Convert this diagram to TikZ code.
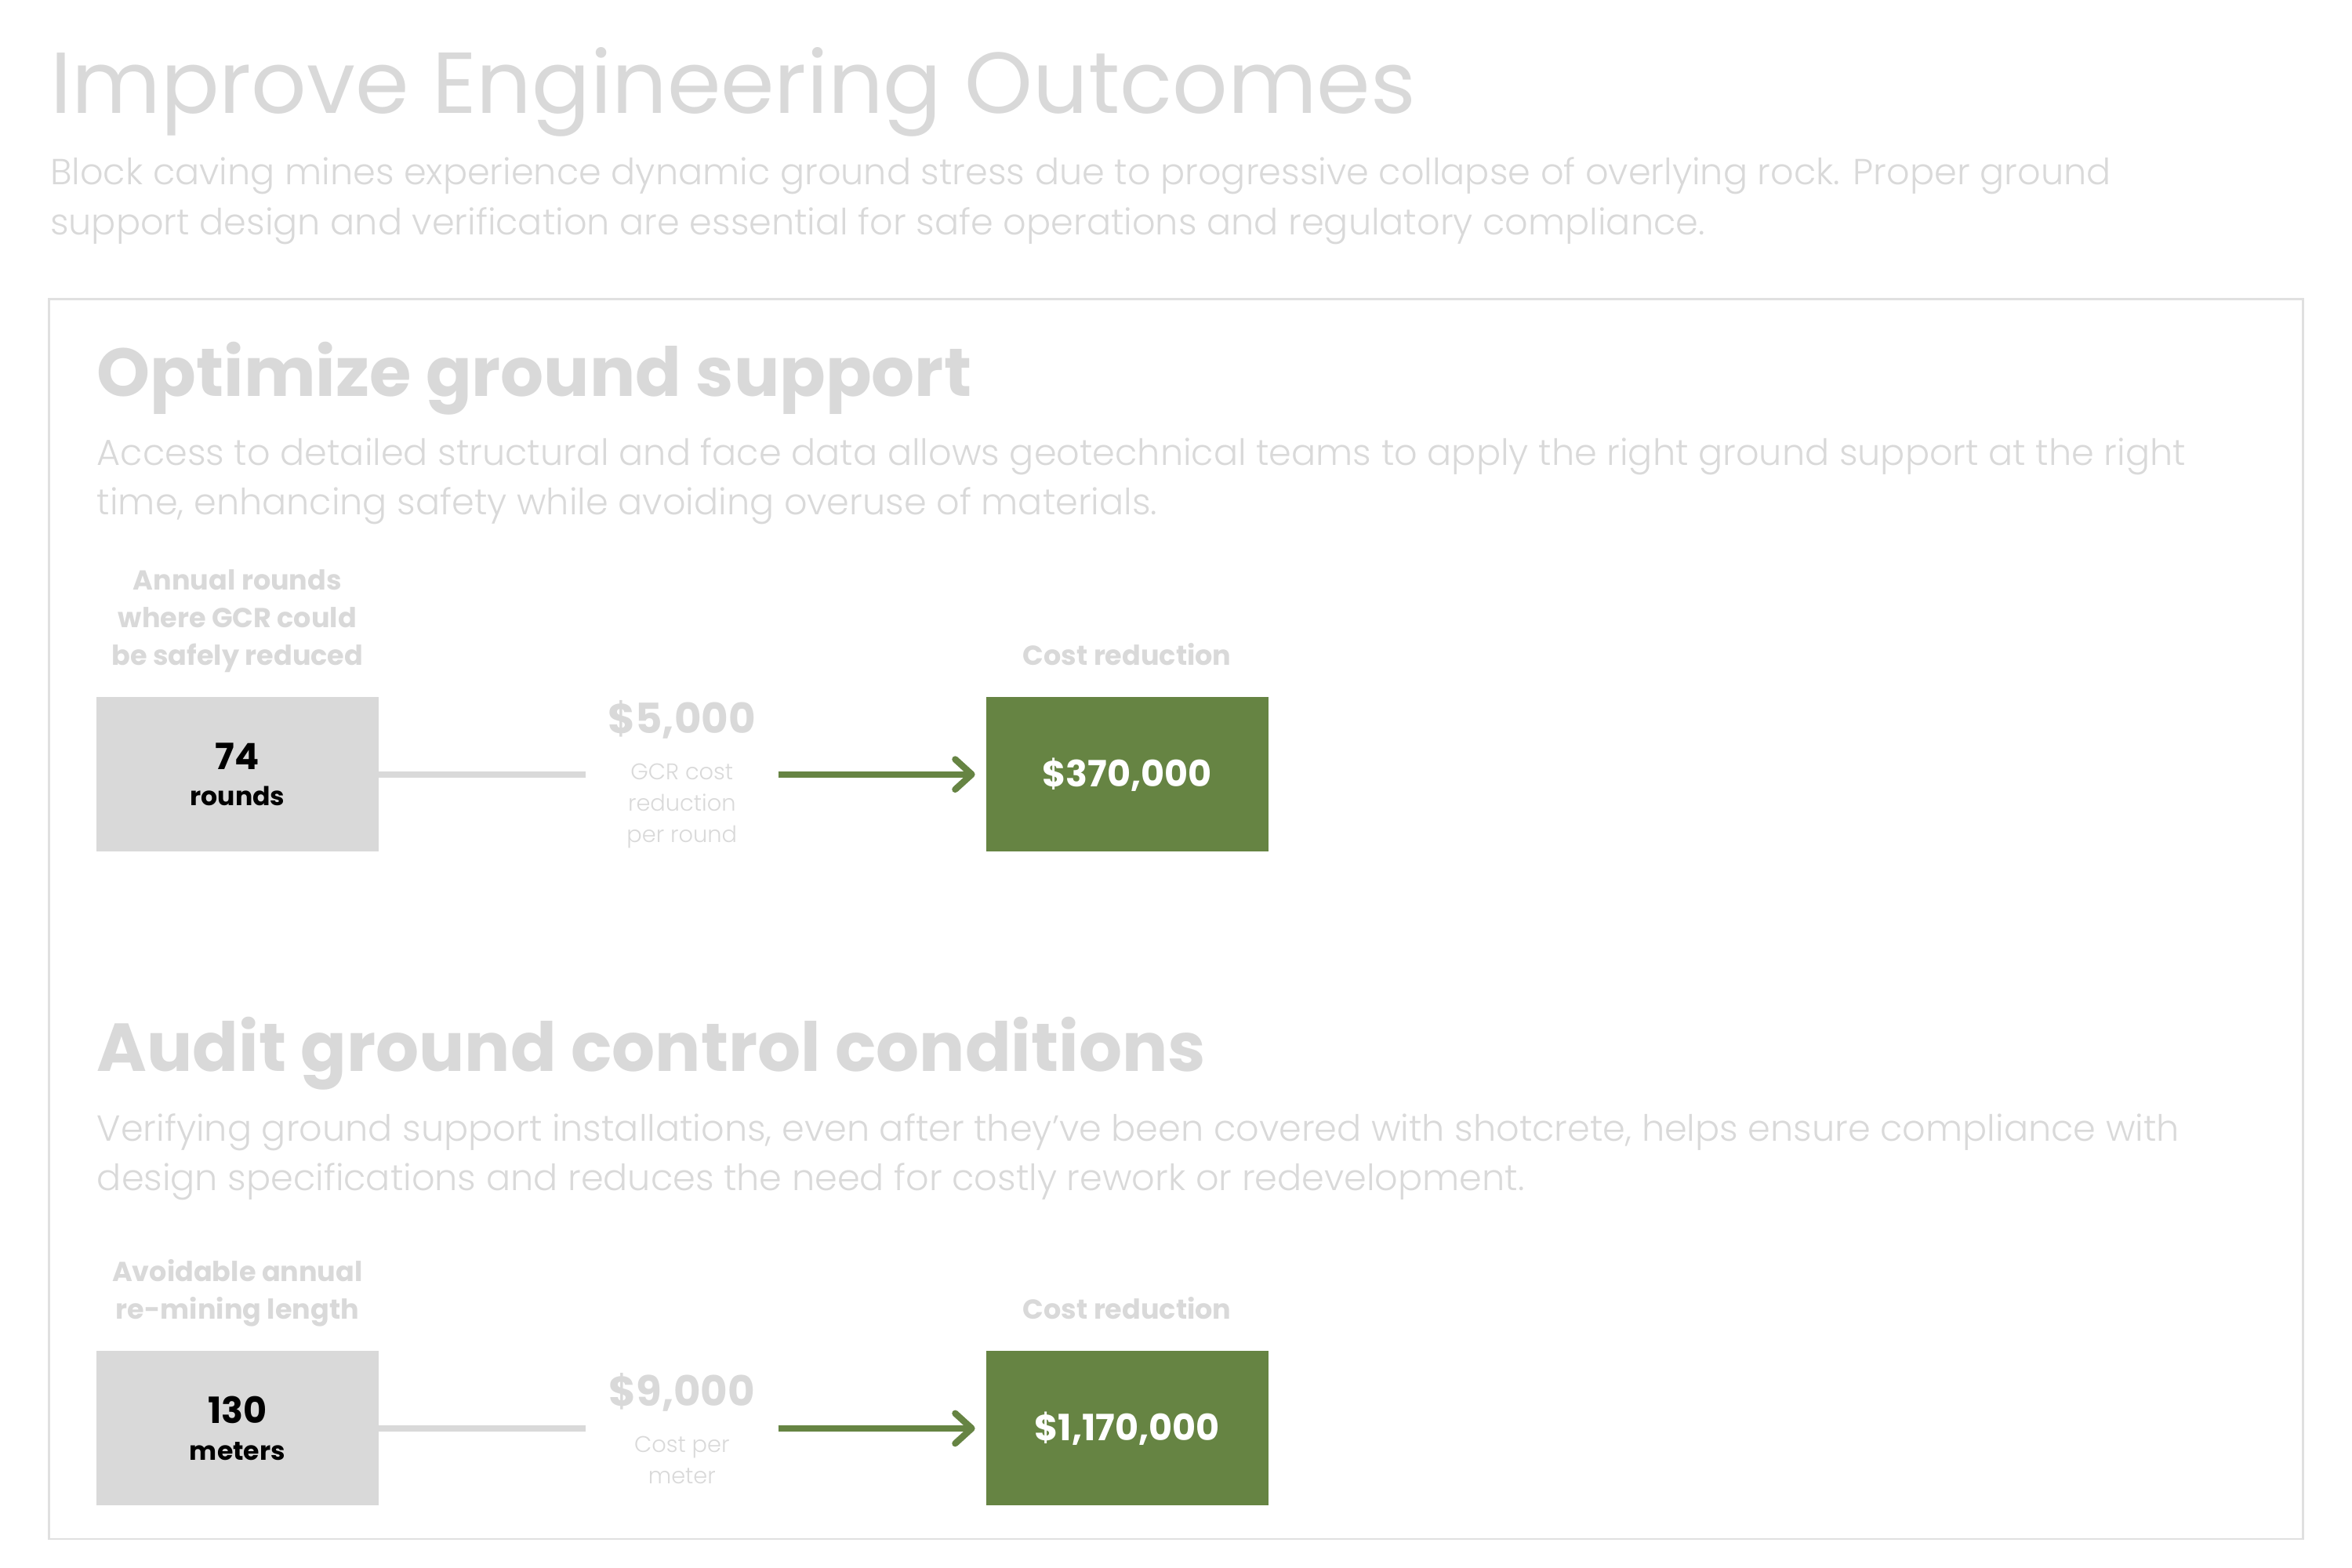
\documentclass[tikz,border=0pt]{standalone}
\usepackage{fontspec}
\setmainfont{Poppins}
\newfontfamily\thinfont{Poppins Light}
\usepackage{tikz}
\usepackage{xcolor}
\usetikzlibrary{positioning,arrows.meta}
\definecolor{softgrey}{HTML}{D9D9D9}
\definecolor{framegrey}{HTML}{E0E0E0}
\definecolor{moneygreen}{HTML}{668443}
\tikzset{
    value-box/.style = {rectangle, inner sep=0pt, minimum width=93.5pt, minimum height=51.2pt, align=center},
    input-box/.style = {value-box, fill=softgrey, text=black, font=\fontsize{8.6}{12}\selectfont\bfseries},
    result-box/.style = {value-box, fill=moneygreen, text=white, font=\fontsize{12}{15}\selectfont\bfseries},
    box-caption/.style = {align=center, text=softgrey, text depth=0pt, inner sep=0pt, font=\fontsize{9.1}{12.5}\selectfont\bfseries},
    rate-text/.style = {align=center, text=softgrey, inner sep=0pt, minimum width=63.5pt, font=\thinfont\fontsize{7.5}{10.4}\selectfont},
    page-title/.style = {anchor=base west, inner sep=0pt, text=softgrey, font=\fontsize{28.7}{34}\selectfont},
    lead-text/.style = {anchor=base west, inner sep=0pt, align=left, text=softgrey, font=\thinfont\fontsize{12}{16.5}\selectfont},
    section-title/.style = {anchor=base west, inner sep=0pt, text=softgrey, font=\fontsize{22.5}{26}\selectfont\bfseries},
    link/.style = {draw=softgrey, line width=2.1pt},
    money-arrow/.style = {draw=moneygreen, line width=2.15pt, -{Straight Barb[length=5.5pt,width=10pt,round]}, shorten >=3.5pt},
}
\newcommand{\bigrate}[1]{{\normalfont\fontsize{13.8}{16}\selectfont\bfseries #1}}
\newcommand{\bignum}[1]{{\fontsize{12}{14}\selectfont #1}}

\begin{document}
\begin{tikzpicture}[x=0.5pt, y=-0.5pt]
\fill[white] (0,0) rectangle (1560,1040);
\useasboundingbox (0,0) rectangle (1560,1040);

\node[page-title] (title) at (33,75) {Improve Engineering Outcomes};
\node[lead-text] (intro) at (33,155.5) {Block caving mines experience dynamic ground stress due to progressive collapse of overlying rock. Proper ground\\support design and verification are essential for safe operations and regulatory compliance.};
\draw[framegrey, line width=0.65pt] (32.4,198.5) rectangle (1527.6,1020.8);

% optimize ground support
\node[section-title] (support) at (64,262.6) {Optimize ground support};
\node[lead-text] (supportlead) at (64,341.6) {Access to detailed structural and face data allows geotechnical teams to apply the right ground support at the right\\time, enhancing safety while avoiding overuse of materials.};
\node[input-box] (rounds) at (157.5,513.6) {\bignum{74}\\rounds};
\node[rate-text, right=68.5pt of rounds] (roundrate) {\bigrate{\$5,000}\\[5pt]GCR cost\\reduction\\per round};
\node[result-box, right=68.75pt of roundrate] (roundsaving) {\$370,000};
\node[box-caption, above=10.2pt of rounds] (roundslabel) {Annual rounds\\where GCR could\\be safely reduced};
\node[box-caption, above=10.2pt of roundsaving] (roundsavinglabel) {Cost reduction};
\draw[link] (rounds.east) -- (rounds.east -| roundrate.west);
\draw[money-arrow] (rounds.east -| roundrate.east) -- (roundsaving.west);

% audit ground control conditions
\node[section-title] (audit) at (64,710.6) {Audit ground control conditions};
\node[lead-text] (auditlead) at (64,789.6) {Verifying ground support installations, even after they’ve been covered with shotcrete, helps ensure compliance with\\design specifications and reduces the need for costly rework or redevelopment.};
\node[input-box] (meters) at (157.5,947.4) {\bignum{130}\\meters};
\node[rate-text, right=68.5pt of meters] (meterrate) {\bigrate{\$9,000}\\[5pt]Cost per\\meter};
\node[result-box, right=68.75pt of meterrate] (metersaving) {\$1,170,000};
\node[box-caption, above=10.2pt of meters] (meterslabel) {Avoidable annual\\re-mining length};
\node[box-caption, above=10.2pt of metersaving] (metersavinglabel) {Cost reduction};
\draw[link] (meters.east) -- (meters.east -| meterrate.west);
\draw[money-arrow] (meters.east -| meterrate.east) -- (metersaving.west);
\end{tikzpicture}
\end{document}
